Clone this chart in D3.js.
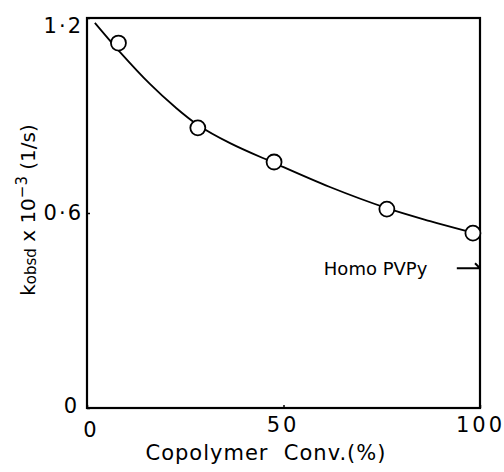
<html>
<head>
<meta charset="utf-8">
<script src="https://d3js.org/d3.v7.min.js"></script>
<style>
  body { margin: 0; background: #fff; }
  text { font-family: "DejaVu Sans", sans-serif; fill: #000; }
</style>
</head>
<body>
<div id="chart"></div>
<script>
  // measured points (copolymer conversion %, k_obsd x 10^-3)
  let conv = [8, 28.2, 47.6, 76.3, 98.2];
  let kobs = [1.123, 0.862, 0.757, 0.612, 0.538];

  // hand drawn fit curve
  let curveX = [2.0, 8.4, 16.0, 22.4, 28.2, 36.4, 47.6, 61.8, 76.3, 87.3, 96.4];
  let curveY = [1.185, 1.095, 0.997, 0.926, 0.871, 0.815, 0.754, 0.680, 0.615, 0.575, 0.545];

  let homoValue = 0.43;
  let xTicks = [0, 50, 100];
  let yTicks = [0, 0.6, 1.2];
  let yTickText = ["0", "0·6", "1·2"];

  let width = 504, height = 472;
  let margin = {left: 87, right: 24, top: 18, bottom: 64};

  let svg = d3.select("#chart").append("svg")
    .attr("width", width)
    .attr("height", height);

  let x = d3.scaleLinear().domain([0, 100]).range([margin.left, width - margin.right]);
  let y = d3.scaleLinear().domain([0, 1.2]).range([height - margin.bottom, margin.top]);

  // frame
  svg.append("rect")
    .attr("x", x(0)).attr("y", y(1.2))
    .attr("width", x(100) - x(0)).attr("height", y(0) - y(1.2))
    .style("fill", "none").style("stroke", "#000").style("stroke-width", 2.2);

  // x axis
  let xAxis = svg.append("g")
    .attr("transform", "translate(0," + y(0) + ")")
    .call(d3.axisBottom(x).tickValues(xTicks).tickSize(-3).tickPadding(7).tickFormat(d3.format("d")));
  xAxis.select(".domain").remove();
  xAxis.selectAll("line").style("stroke-width", 1.5);
  xAxis.selectAll("text").style("font-size", "21px").style("letter-spacing", "3px")
    .attr("dy", function(d) { return d === 0 ? "1.05em" : "0.8em"; })
    .attr("dx", function(d) { return d === 0 ? "4" : (d === 50 ? "-1" : "0"); });

  // y axis
  let yAxis = svg.append("g")
    .attr("transform", "translate(" + x(0) + ",0)")
    .call(d3.axisLeft(y).tickValues(yTicks).tickSize(-3).tickPadding(4)
      .tickFormat(function(d, i) { return yTickText[i]; }));
  yAxis.select(".domain").remove();
  yAxis.selectAll("line").style("stroke-width", 1.5);
  yAxis.selectAll("text").style("font-size", "21px").style("letter-spacing", "2px")
    .attr("dx", function(d) { return d === 0 ? "-4" : "0"; })
    .attr("dy", function(d) { return d === 1.2 ? "0.7em" : (d === 0 ? "0.2em" : "0.32em"); });

  // fitted curve
  let line = d3.line()
    .x(function(d) { return x(d[0]); })
    .y(function(d) { return y(d[1]); })
    .curve(d3.curveCatmullRom);
  svg.append("path")
    .datum(d3.zip(curveX, curveY))
    .attr("d", line)
    .style("fill", "none").style("stroke", "#000").style("stroke-width", 1.8);

  // points
  svg.selectAll("circle.pt")
    .data(d3.zip(conv, kobs))
    .enter()
    .append("circle")
      .attr("class", "pt")
      .attr("cx", function(d) { return x(d[0]); })
      .attr("cy", function(d) { return y(d[1]); })
      .attr("r", 7.5)
      .style("fill", "#fff").style("stroke", "#000").style("stroke-width", 1.8);

  // Homo PVPy marker
  svg.append("text")
    .attr("x", x(86.6)).attr("y", y(homoValue))
    .attr("dy", "0.35em")
    .attr("text-anchor", "end")
    .style("font-size", "18px")
    .text("Homo PVPy");
  svg.append("path")
    .attr("d", "M" + x(94.1) + "," + y(homoValue) + "H" + x(100) +
               "M" + (x(100) - 5) + "," + (y(homoValue) - 5) + "L" + x(100) + "," + y(homoValue))
    .style("fill", "none").style("stroke", "#000").style("stroke-width", 2);

  // axis titles
  svg.append("text")
    .attr("x", 266).attr("y", 460)
    .attr("text-anchor", "middle")
    .style("font-size", "21px")
    .style("letter-spacing", "1px")
    .style("white-space", "pre")
    .text("Copolymer  Conv.(%)");

  let ylab = svg.append("text")
    .attr("transform", "translate(35," + 210 + ") rotate(-90)")
    .attr("text-anchor", "middle")
    .style("font-size", "20px");
  ylab.append("tspan").text("k");
  ylab.append("tspan").style("font-size", "15px").attr("dy", "1").text("obsd");
  ylab.append("tspan").attr("dy", "-1").text(" x 10");
  ylab.append("tspan").style("font-size", "15px").attr("dy", "-8").text("−3");
  ylab.append("tspan").attr("dy", "8").text(" (1/s)");
</script>
</body>
</html>
